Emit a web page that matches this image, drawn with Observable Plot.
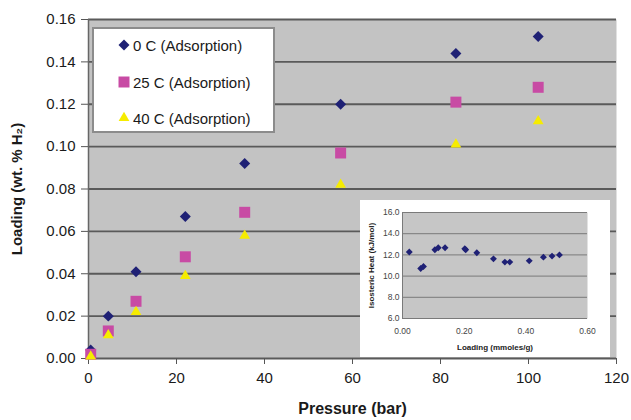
<!DOCTYPE html>
<html>
<head>
<meta charset="utf-8">
<script src="https://cdn.jsdelivr.net/npm/d3@7"></script>
<script src="https://cdn.jsdelivr.net/npm/@observablehq/plot@0.6"></script>
<style>
  body { margin: 0; background: #fff; }
  #wrap { position: relative; width: 631px; height: 420px; font-family: "Liberation Sans", Arial, sans-serif; overflow: hidden; }
  #main { position: absolute; left: 0; top: 0; }
  #inset { position: absolute; left: 360px; top: 200px; }
  #legend { position: absolute; left: 92px; top: 27px; width: 183px; height: 106px; box-sizing: border-box;
            background: #fff; border: 2px solid #8c8c8c; }
  .row { position: absolute; left: 0; height: 20px; display: flex; align-items: center; font-size: 15px; color: #1a1a1a; white-space: nowrap; }
  .row svg { margin-left: 23px; margin-right: 2px; }
  #main g[aria-label="x-axis label"] text { font-weight: 700; font-size: 16px; fill: #1a1a1a; }
  #main g[aria-label="y-axis label"] text { font-weight: 700; font-size: 15px; fill: #1a1a1a; }
  #inset g[aria-label="x-axis label"] text,
  #inset g[aria-label="y-axis label"] text { font-weight: 700; font-size: 8px; fill: #222; }
</style>
</head>
<body>
<div id="wrap">
  <div id="main"></div>
  <div id="legend"></div>
  <div id="inset"></div>
</div>
<script>
// ---- data ----
const pressure = [0.5, 4.5, 10.8, 22, 35.5, 57.3, 83.5, 102.2];
const load0C  = [0.004, 0.020, 0.041, 0.067, 0.092, 0.120, 0.144, 0.152];
const load25C = [0.002, 0.013, 0.027, 0.048, 0.069, 0.097, 0.121, 0.128];
const load40C = [0.001, 0.011, 0.022, 0.039, 0.058, 0.082, 0.101, 0.112];
const seriesNames = ["0 C (Adsorption)", "25 C (Adsorption)", "40 C (Adsorption)"];
const seriesColors = ["#1f2175", "#c84ba4", "#f6ec00"];
const seriesSymbols = ["diamond2", "square", "triangle"];
const xTicks = [0, 20, 40, 60, 80, 100, 120];
const yTicks = [0, 0.02, 0.04, 0.06, 0.08, 0.10, 0.12, 0.14, 0.16];

const insetLoading = [0.022, 0.059, 0.068, 0.105, 0.116, 0.138, 0.202, 0.205, 0.241, 0.295, 0.332, 0.348, 0.411, 0.457, 0.485, 0.509];
const insetHeat    = [12.27, 10.72, 10.9, 12.49, 12.68, 12.68, 12.58, 12.49, 12.2, 11.63, 11.32, 11.32, 11.44, 11.79, 11.89, 12.0];
const insetXTicks = [0, 0.2, 0.4, 0.6];
const insetYTicks = [6, 8, 10, 12, 14, 16];

// ---- tables ----
const seriesLoads = [load0C, load25C, load40C];
const series = seriesLoads.map((arr) => arr.map((v, i) => ({p: pressure[i], v})));
const insetData = insetLoading.map((x, i) => ({x, y: insetHeat[i]}));
const radii = [4.95, 6.2, 4.0];
const d3Symbols = {diamond2: d3.symbolDiamond2, square: d3.symbolSquare, triangle: d3.symbolTriangle};

const main = Plot.plot({
  width: 631, height: 420,
  marginLeft: 88, marginRight: 15, marginTop: 19, marginBottom: 62,
  x: {domain: [0, 120]},
  y: {domain: [0, 0.16]},
  style: {fontFamily: '"Liberation Sans", Arial, sans-serif', fontSize: "15px", color: "#1a1a1a", background: "transparent", overflow: "visible"},
  marks: [
    Plot.frame({fill: "#c3c3c3", stroke: "none"}),
    Plot.ruleY(yTicks, {stroke: "#5a5a5a", strokeWidth: 1.8}),
    Plot.ruleX([0], {stroke: "#666", strokeWidth: 1.5}),
    Plot.axisY({ticks: yTicks, tickFormat: d3.format(".2f"), tickSize: 7, tickPadding: 6, stroke: "#555",
                label: "Loading (wt. % H₂)", labelAnchor: "center", labelOffset: 77, labelArrow: "none"}),
    Plot.axisX({ticks: xTicks, tickSize: 6, tickPadding: 8, stroke: "#555",
                label: "Pressure (bar)", labelAnchor: "center", labelOffset: 55, labelArrow: "none"}),
    ...series.map((data, k) => Plot.dot(data, {x: "p", y: "v", symbol: seriesSymbols[k], fill: seriesColors[k], stroke: "none", r: radii[k]}))
  ]
});
document.getElementById("main").append(main);

// ---- legend ----
const legend = document.getElementById("legend");
const rowTops = [6, 43, 79];
seriesNames.forEach((name, k) => {
  const row = document.createElement("div");
  row.className = "row";
  row.style.top = rowTops[k] + "px";
  const size = Math.PI * radii[k] * radii[k];
  const sym = d3.symbol(d3Symbols[seriesSymbols[k]], size)();
  row.innerHTML = `<svg width="14" height="14" viewBox="-7 -7 14 14"><path d="${sym}" fill="${seriesColors[k]}"/></svg><span>${name}</span>`;
  legend.append(row);
});

// ---- inset ----
const inset = Plot.plot({
  width: 250, height: 157,
  marginLeft: 42, marginRight: 23, marginTop: 12, marginBottom: 39,
  x: {domain: [0, 0.6]},
  y: {domain: [6, 16]},
  style: {fontFamily: '"Liberation Sans", Arial, sans-serif', fontSize: "8.5px", color: "#444", background: "#fff"},
  marks: [
    Plot.frame({fill: "#c6c6c6", stroke: "none"}),
    Plot.ruleY(insetYTicks, {stroke: "#7a7a7a", strokeWidth: 1}),
    Plot.ruleX([0], {stroke: "#7a7a7a", strokeWidth: 1}),
    Plot.axisY({ticks: insetYTicks, tickFormat: d3.format(".1f"), tickSize: 0, tickPadding: 3,
                label: "Isosteric Heat (kJ/mol)", labelAnchor: "center", labelOffset: 34, labelArrow: "none"}),
    Plot.axisX({ticks: insetXTicks, tickFormat: d3.format(".2f"), tickSize: 0, tickPadding: 9,
                label: "Loading (mmoles/g)", labelAnchor: "center", labelOffset: 31, labelArrow: "none"}),
    Plot.dot(insetData, {x: "x", y: "y", symbol: "diamond2", fill: "#1f2175", stroke: "none", r: 3.1})
  ]
});
document.getElementById("inset").append(inset);
</script>
</body>
</html>
